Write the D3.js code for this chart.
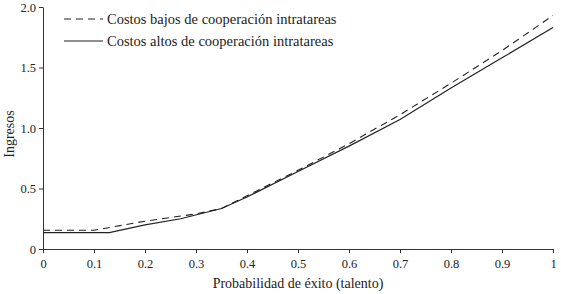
<!DOCTYPE html>
<html>
<head>
<meta charset="utf-8">
<script src="https://cdn.jsdelivr.net/npm/d3@7"></script>
<style>
  html, body { margin: 0; padding: 0; background: #fff; overflow: hidden; }
  svg { display: block; }
  svg text { font-family: "Liberation Serif", "DejaVu Serif", serif; fill: #222; }
  .axis path, .axis line { stroke: #333; }
</style>
</head>
<body>
<script>
const Width = 561;
const Height = 294;

const margin = { left: 43, right: 8, top: 7, bottom: 45 };
const innerWidth = Width - margin.left - margin.right;
const innerHeight = Height - margin.top - margin.bottom;

// series
const lowX  = [0, 0.1, 0.2, 0.3, 0.35, 0.4, 0.5, 0.6, 0.7, 0.8, 0.9, 1.0];
const lowY  = [0.155, 0.155, 0.23, 0.29, 0.335, 0.44, 0.65, 0.87, 1.11, 1.37, 1.64, 1.93];
const highX = [0, 0.13, 0.2, 0.27, 0.35, 0.4, 0.5, 0.6, 0.7, 0.8, 0.9, 1.0];
const highY = [0.135, 0.135, 0.2, 0.25, 0.335, 0.43, 0.64, 0.85, 1.07, 1.33, 1.58, 1.83];

const xTicks = [0, 0.1, 0.2, 0.3, 0.4, 0.5, 0.6, 0.7, 0.8, 0.9, 1];
const xTickLabels = ["0", "0.1", "0.2", "0.3", "0.4", "0.5", "0.6", "0.7", "0.8", "0.9", "1"];
const yTicks = [0, 0.5, 1.0, 1.5, 2.0];
const yTickLabels = ["0", "0.5", "1.0", "1.5", "2.0"];

const seriesNames = ["Costos bajos de cooperación intratareas", "Costos altos de cooperación intratareas"];

const svg = d3.select('body')
  .append('svg')
    .attr('width', Width)
    .attr('height', Height);

const g = svg.append('g')
  .attr('transform', `translate(${margin.left}, ${margin.top})`);

const xScale = d3.scaleLinear().domain([0, 1]).range([0, innerWidth]);
const yScale = d3.scaleLinear().domain([0, 2]).range([innerHeight, 0]);

// axes
g.append('g')
  .attr('class', 'axis')
  .attr('transform', `translate(0, ${innerHeight})`)
  .call(d3.axisBottom(xScale).tickValues(xTicks).tickSize(4).tickSizeOuter(0)
    .tickFormat((d, i) => xTickLabels[i]))
  .call(a => a.selectAll('text').attr('y', 9).attr('dy', '0.8em'));

g.append('g')
  .attr('class', 'axis')
  .call(d3.axisLeft(yScale).tickValues(yTicks).tickSize(4).tickSizeOuter(0)
    .tickFormat((d, i) => yTickLabels[i]));

g.selectAll('.axis')
  .attr('font-family', null)
  .attr('font-size', 12.5);

// lines
const line = d3.line()
  .x(d => xScale(d[0]))
  .y(d => yScale(d[1]));

g.append('path')
  .datum(lowX.map((x, i) => [x, lowY[i]]))
  .attr('fill', 'none')
  .attr('stroke', '#222')
  .attr('stroke-width', 1.1)
  .attr('stroke-dasharray', '7,5')
  .attr('d', line);

g.append('path')
  .datum(highX.map((x, i) => [x, highY[i]]))
  .attr('fill', 'none')
  .attr('stroke', '#222')
  .attr('stroke-width', 1.2)
  .attr('d', line);

// legend
const legend = svg.append('g').attr('transform', 'translate(64, 19)');
seriesNames.forEach((name, i) => {
  const row = legend.append('g').attr('transform', `translate(0, ${i * 22})`);
  row.append('line')
    .attr('x1', 0).attr('x2', 39).attr('y1', 0).attr('y2', 0)
    .attr('stroke', '#222')
    .attr('stroke-width', 1.2)
    .attr('stroke-dasharray', i === 0 ? '7,5' : null);
  row.append('text')
    .attr('x', 43)
    .attr('y', 5)
    .attr('font-size', 14.5)
    .text(name);
});

// axis titles
svg.append('text')
  .attr('x', margin.left + innerWidth / 2)
  .attr('y', 288)
  .attr('text-anchor', 'middle')
  .attr('font-size', 14)
  .text('Probabilidad de éxito (talento)');

svg.append('text')
  .attr('transform', `translate(14, ${margin.top + innerHeight / 2 + 6}) rotate(-90)`)
  .attr('text-anchor', 'middle')
  .attr('font-size', 14)
  .text('Ingresos');
</script>
</body>
</html>
